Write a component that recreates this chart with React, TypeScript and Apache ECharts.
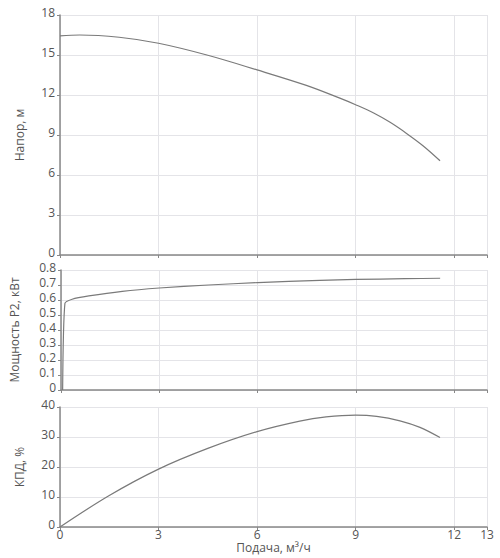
import React, { useEffect, useRef } from "react";
import * as echarts from "echarts";

const xTicks = { min: 0, max: 13, interval: 3 };

const headQ = [0, 0.6, 1.8, 3, 4.5, 6, 7.5, 8.5, 9, 9.55, 10.05, 10.55, 11.06, 11.57];
const headH = [16.43, 16.5, 16.33, 15.88, 14.98, 13.88, 12.72, 11.78, 11.27, 10.65, 9.95, 9.12, 8.18, 7.07];

const powerQ = [0.05, 0.12, 0.34, 0.85, 1.87, 3.0, 4.5, 6.0, 7.9, 9, 10.5, 11.57];
const powerP = [0, 0.578, 0.605, 0.627, 0.658, 0.68, 0.7, 0.716, 0.731, 0.737, 0.742, 0.745];

const effQ = [0, 1.5, 3, 4.5, 6, 7.3, 8.1, 9, 9.64, 10.35, 10.96, 11.57];
const effE = [0, 10.5, 19.3, 26.2, 31.8, 35.3, 36.7, 37.3, 36.9, 35.4, 33.2, 29.8];

const yNames = ["Напор, м", "Мощность P2, кВт", "КПД, %"];
const xName = "Подача, м³/ч";

const FONT = "'Open Sans', sans-serif";
const TXT = "#555";
const AXIS = "#888";
const GRIDC = "#e4e4e8";
const LINE = "#7a7a7a";

function pairs(xs: number[], ys: number[]) {
  return xs.map((x, i) => [x, ys[i]]);
}

export default function App() {
  const ref = useRef<HTMLDivElement>(null);
  useEffect(() => {
    if (!ref.current) return;
    const chart = echarts.init(ref.current, null, { renderer: "svg" });
    const grids = [
      { left: 60, right: 13, top: 15, height: 240 },
      { left: 60, right: 13, top: 270, height: 120 },
      { left: 60, right: 13, top: 407, height: 120 },
    ];
    const xAxis = [0, 1, 2].map((i) => ({
      type: "value",
      gridIndex: i,
      min: xTicks.min,
      max: xTicks.max,
      interval: xTicks.interval,
      name: i === 2 ? xName : "",
      nameLocation: "middle",
      nameGap: 14,
      nameTextStyle: { color: TXT, fontFamily: FONT, fontSize: 12 },
      axisLine: { show: true, lineStyle: { color: AXIS, width: 1.5 } },
      axisTick: { show: true, length: 3, lineStyle: { color: AXIS } },
      axisLabel: {
        show: i === 2,
        color: TXT,
        fontFamily: FONT,
        fontSize: 12,
        margin: 1,
      },
      splitLine: { show: true, lineStyle: { color: GRIDC, width: 1 } },
    }));
    const yCfg = [
      { min: 0, max: 18, interval: 3, gap: 35 },
      { min: 0, max: 0.8, interval: 0.1, gap: 41 },
      { min: 0, max: 40, interval: 10, gap: 35 },
    ];
    const yAxis = yCfg.map((c, i) => ({
      type: "value",
      gridIndex: i,
      min: c.min,
      max: c.max,
      interval: c.interval,
      name: yNames[i],
      nameLocation: "middle",
      nameGap: c.gap,
      nameTextStyle: { color: TXT, fontFamily: FONT, fontSize: 12 },
      axisLine: { show: true, lineStyle: { color: AXIS, width: 1.5 } },
      axisTick: { show: true, length: 3, lineStyle: { color: AXIS } },
      axisLabel: {
        color: TXT,
        fontFamily: FONT,
        fontSize: 12,
        margin: 5,
        verticalAlign: "bottom",
        lineHeight: 6,
      },
      splitLine: { show: true, lineStyle: { color: GRIDC, width: 1 } },
    }));
    const mk = (data: number[][], i: number, smooth: number) => ({
      type: "line",
      xAxisIndex: i,
      yAxisIndex: i,
      data,
      smooth,
      showSymbol: false,
      lineStyle: { color: LINE, width: 1.2 },
    });
    chart.setOption({
      animation: false,
      grid: grids,
      xAxis,
      yAxis,
      series: [
        mk(pairs(headQ, headH), 0, 0.35),
        mk(pairs(powerQ, powerP), 1, 0.2),
        mk(pairs(effQ, effE), 2, 0.35),
      ],
    });
    return () => chart.dispose();
  }, []);
  return <div ref={ref} style={{ width: 500, height: 558, position: "absolute", left: 0, top: 0 }} />;
}
